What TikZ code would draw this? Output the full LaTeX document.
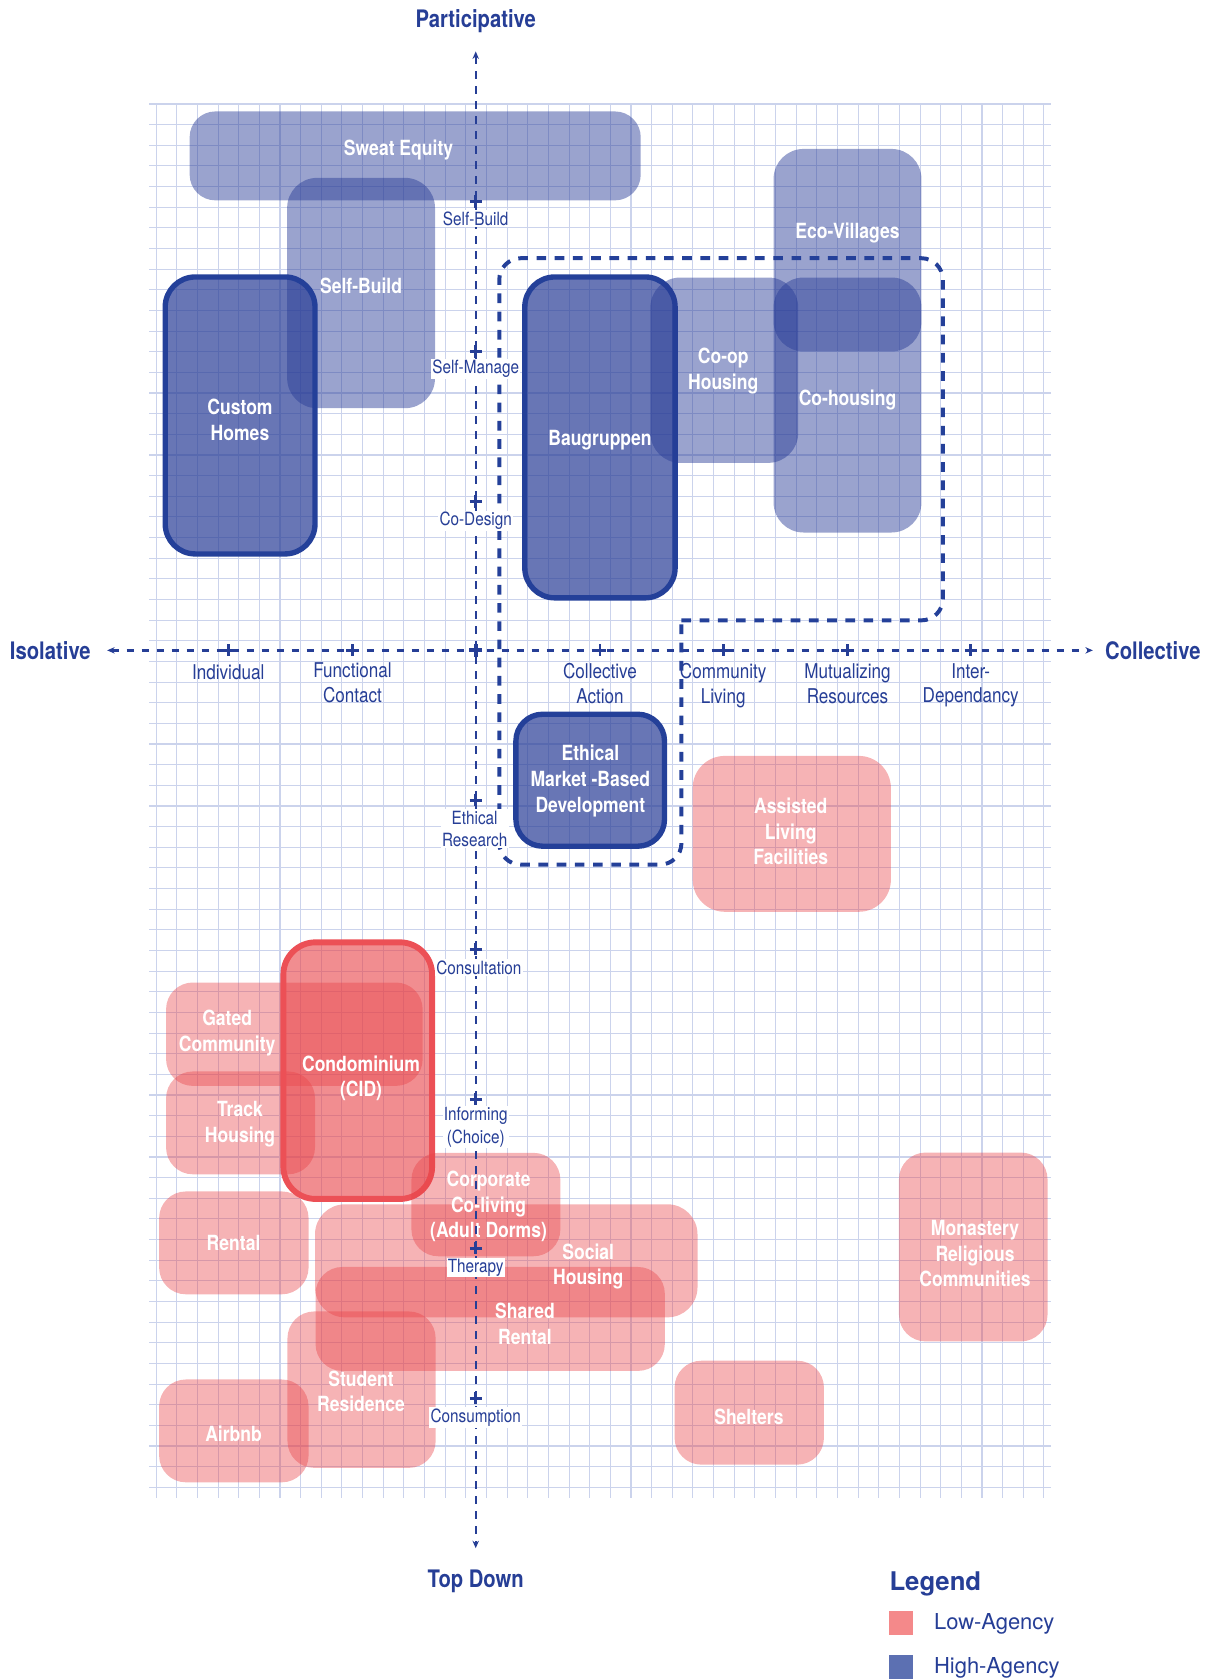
\documentclass[tikz,border=0pt]{standalone}
\usepackage{fontspec}
\setmainfont{TeX Gyre Heros}
\newfontfamily\cond[FakeStretch=0.84]{TeX Gyre Heros}
\usetikzlibrary{arrows.meta}

\definecolor{axisblue}{RGB}{38,62,150}
\definecolor{borderblue}{RGB}{36,64,153}
\definecolor{bluebase}{RGB}{40,60,150}
\definecolor{redbase}{RGB}{232,65,70}
\definecolor{borderred}{RGB}{236,80,86}
\definecolor{gridc}{RGB}{203,211,236}
\definecolor{legpink}{RGB}{244,137,138}
\definecolor{legblue}{RGB}{92,112,178}

\tikzset{
  gridline/.style={draw=gridc, line width=1.0},
  highbox/.style={fill=bluebase, fill opacity=0.47},
  lowbox/.style={fill=redbase, fill opacity=0.40},
  strongblue/.style={fill=bluebase, fill opacity=0.70, draw=borderblue, draw opacity=1, line width=5},
  strongred/.style={fill=redbase, fill opacity=0.60, draw=borderred, draw opacity=1, line width=5.5},
  regionline/.style={draw=borderblue, line width=3.7, dash pattern=on 9 off 8, line cap=butt},
  axisline/.style={draw=axisblue, line width=2.2, dash pattern=on 7 off 7},
  tickmark/.style={draw=axisblue, line width=2.6},
  origintick/.style={draw=axisblue, line width=3.5},
  boxlabel/.style={text=white, font=\cond\bfseries\fontsize{19.5}{24}\selectfont, align=center, inner sep=0},
  ticklabel/.style={text=axisblue, font=\cond\fontsize{19}{23}\selectfont, align=center, inner sep=0.5},
  vlabel/.style={ticklabel, font=\cond\fontsize{17}{21}\selectfont, fill=white, inner sep=1.2},
  axistitle/.style={text=axisblue, font=\cond\bfseries\fontsize{22.5}{26}\selectfont, inner sep=0},
}

\begin{document}
\begin{tikzpicture}[x=1pt, y=-1pt]
\useasboundingbox (0,0) rectangle (1132,1568);

% ---------- background grid ----------
\foreach \k in {0,...,67} {
  \draw[gridline] (139.3,{97.05+\k*19.27}) -- (980.5,{97.05+\k*19.27});
}
\foreach \j in {0,...,43} {
  \draw[gridline] ({145.7+\j*19.27},97.05) -- ({145.7+\j*19.27},1398);
}

% ---------- high-agency regions ----------
\path[highbox, rounded corners=24] (177,104) rectangle (598,187);     % sweat equity
\path[highbox, rounded corners=28] (268,166) rectangle (406,381);     % self-build
\path[strongblue, rounded corners=28] (154.2,258.5) rectangle (294,517); % custom homes
\path[highbox, rounded corners=28] (722,139) rectangle (860,328);     % eco-villages
\path[highbox, rounded corners=28] (722,259) rectangle (860,497);     % co-housing
\path[strongblue, rounded corners=28] (489.8,258.5) rectangle (630.1,558); % baugruppen
\path[highbox, rounded corners=28] (607,259) rectangle (745,432);     % co-op housing
\path[strongblue, rounded corners=25] (481.5,666.6) rectangle (620.2,789.8); % ethical market-based

% ---------- low-agency regions ----------
\path[lowbox, rounded corners=30] (646.5,705.5) rectangle (831.5,851);   % assisted living
\path[lowbox, rounded corners=25] (155,917) rectangle (394.5,1013.5);    % gated community
\path[lowbox, rounded corners=25] (155,1000) rectangle (294,1096);       % track housing
\path[lowbox, rounded corners=25] (148.5,1112) rectangle (288,1208);     % rental
\path[lowbox, rounded corners=28] (294,1124) rectangle (651,1229.5);     % social housing
\path[lowbox, rounded corners=25] (294.5,1182.5) rectangle (620.5,1279.5); % shared rental
\path[lowbox, rounded corners=25] (268.3,1224) rectangle (406.6,1370);   % student residence
\path[lowbox, rounded corners=25] (148.5,1287.5) rectangle (288,1383.5); % airbnb
\path[lowbox, rounded corners=25] (629.6,1270) rectangle (769,1367);     % shelters
\path[lowbox, rounded corners=25] (839,1075.7) rectangle (977.7,1252);   % monastery
\path[strongred, rounded corners=30] (264.5,879.5) rectangle (403.3,1119); % condominium
\path[lowbox, rounded corners=25] (384,1076) rectangle (523,1172.5);     % corporate co-living

% ---------- dashed grouping outline ----------
\draw[regionline] (636,579) [rounded corners=20] -- (880,579) -- (880,241)
  -- (466,241) -- (466,807) -- (636,807) -- (636,579);

% ---------- region labels ----------
\node[boxlabel] (lsweat) at (372,140) {Sweat Equity};
\node[boxlabel] (lselfbuild) at (337,267) {Self-Build};
\node[boxlabel] (lcustom) at (224,392) {Custom\\Homes};
\node[boxlabel] (leco) at (791,217) {Eco-Villages};
\node[boxlabel] (lcoop) at (675,346) {Co-op\\Housing};
\node[boxlabel] (lcohousing) at (791,373) {Co-housing};
\node[boxlabel] (lbau) at (560,411) {Baugruppen};
\node[boxlabel] (lethical) at (551,729) {Ethical\\Market -Based\\Development};
\node[boxlabel] (lassisted) at (738,776) {Assisted\\Living\\Facilities};
\node[boxlabel] (lgated) at (212,964) {Gated\\Community};
\node[boxlabel] (lcondo) at (337,1006.5) {Condominium\\(CID)};
\node[boxlabel] (ltrack) at (224,1049) {Track\\Housing};
\node[boxlabel] (lcorp) at (456,1126) {Corporate\\Co-living\\(Adult Dorms)};
\node[boxlabel] (lrental) at (218,1160) {Rental};
\node[boxlabel] (lsocial) at (549,1182) {Social\\Housing};
\node[boxlabel] (lshared) at (490,1235.5) {Shared\\Rental};
\node[boxlabel] (lstudent) at (337,1298.5) {Student\\Residence};
\node[boxlabel] (lairbnb) at (218,1338) {Airbnb};
\node[boxlabel] (lshelters) at (699,1322) {Shelters};
\node[boxlabel] (lmonastery) at (910,1170) {Monastery\\Religious\\Communities};

% ---------- axes ----------
\coordinate (ytop) at (444,48);
\coordinate (ybot) at (444,1445);
\coordinate (xleft) at (100,607);
\coordinate (xright) at (1020,607);
\draw[axisline, {Stealth[length=7,width=6]}-{Stealth[length=7,width=6]}] (ytop) -- (ybot);
\draw[axisline, {Stealth[length=7,width=6]}-{Stealth[length=7,width=6]}] (xleft) -- (xright);

\foreach \t in {213,329,560,675,791,906} {
  \draw[tickmark] (\t,601.3) -- (\t,612.7);
  \draw[tickmark] ({\t-5.7},607) -- ({\t+5.7},607);
}
\foreach \t in {188,328,468,747,886,1026,1165,1305} {
  \draw[tickmark] (438.3,\t) -- (449.7,\t);
  \draw[tickmark] (444,{\t-5.7}) -- (444,{\t+5.7});
}
\draw[origintick] (438,607) -- (450,607);
\draw[origintick] (444,601) -- (444,613);

% ---------- axis titles ----------
\node[axistitle] (tpart) at (444,20) {Participative};
\node[axistitle] (ttop) at (444,1476) {Top Down};
\node[axistitle] (tiso) at (47,607) {Isolative};
\node[axistitle] (tcoll) at (1076,607) {Collective};

% ---------- scale labels ----------
\node[vlabel] (sselfbuild) at (444,204) {Self-Build};
\node[vlabel] (sselfmanage) at (444,344) {Self-Manage};
\node[vlabel] (scodesign) at (444,486) {Co-Design};
\node[vlabel] (sethical) at (443,773.5) {Ethical\\Research};
\node[vlabel] (sconsult) at (447,903) {Consultation};
\node[vlabel] (sinform) at (444,1052) {Informing\\(Choice)};
\node[vlabel] (stherapy) at (444,1183) {Therapy};
\node[vlabel] (sconsume) at (444,1323) {Consumption};

\node[ticklabel] (sindiv) at (213,627) {Individual};
\node[ticklabel] (sfunc) at (329,637.5) {Functional\\Contact};
\node[ticklabel] (scollect) at (560,638) {Collective\\Action};
\node[ticklabel] (scomm) at (675,640) {Community\\Living};
\node[ticklabel] (smutual) at (791,638) {Mutualizing\\Resources};
\node[ticklabel] (sinter) at (906,639.5) {Inter-\\Dependancy};

% ---------- legend ----------
\node[anchor=base west, inner sep=0, text=axisblue, font=\bfseries\fontsize{24}{28}\selectfont] (legtitle) at (830,1484.4) {Legend};
\fill[legpink] (829.6,1503.4) rectangle (852,1525.8);
\fill[legblue] (829.6,1544.4) rectangle (852,1566.8);
\node[anchor=base west, inner sep=0, text=axisblue, font=\fontsize{20.5}{24}\selectfont] (leglow) at (871.6,1521) {Low-Agency};
\node[anchor=base west, inner sep=0, text=axisblue, font=\fontsize{20.5}{24}\selectfont] (leghigh) at (871.6,1562) {High-Agency};

\end{tikzpicture}
\end{document}
